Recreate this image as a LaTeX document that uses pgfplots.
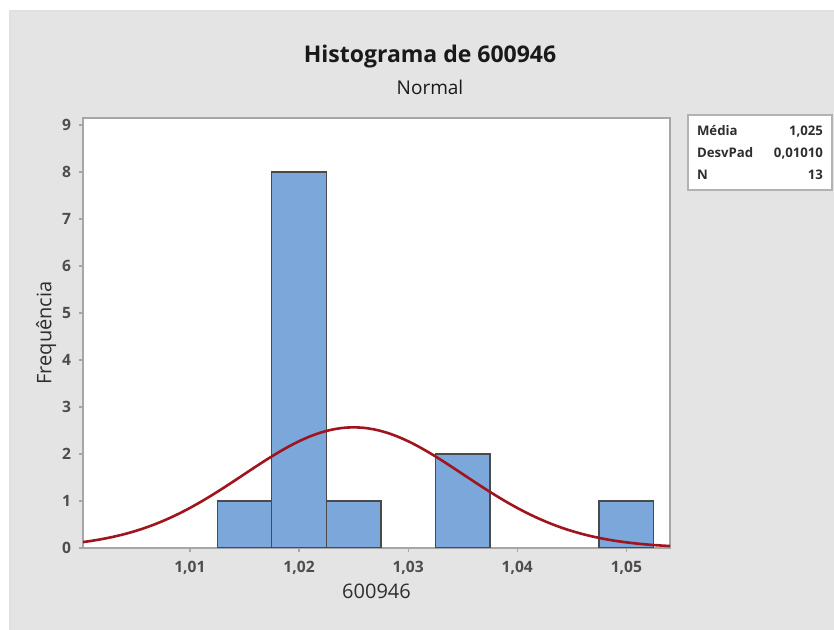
\documentclass[border=0pt]{standalone}
\usepackage{pgfplots}
\pgfplotsset{compat=1.18}
\usepackage{fontspec}
\setmainfont{Open Sans}
\definecolor{bgray}{HTML}{E4E4E4}
\definecolor{framegray}{HTML}{A6A6A6}
\definecolor{barblue}{HTML}{7BA7DA}
\definecolor{bardraw}{HTML}{4A4A4A}
\definecolor{curvered}{HTML}{A0141E}
\definecolor{txt}{HTML}{2E2E2E}
\begin{document}
\begin{tikzpicture}
\path[use as bounding box] (0,0) rectangle (417pt,315pt);
\fill[white] (0,0) rectangle (417pt,315pt);
\filldraw[fill=bgray, draw=black!12, line width=0.6pt] (5pt,-1pt) rectangle (418pt,309.5pt);
\begin{axis}[
  at={(41.5pt,41pt)}, anchor=south west,
  width=293.5pt, height=215pt, scale only axis,
  xmin=1.0002, xmax=1.0540, ymin=0, ymax=9.15,
  axis background/.style={fill=white},
  axis line style={draw=framegray, line width=0.8pt},
  xtick={1.01,1.02,1.03,1.04,1.05},
  xticklabels={{1,01},{1,02},{1,03},{1,04},{1,05}},
  ytick={0,1,...,9},
  tick align=outside, major tick length=2pt,
  tick style={draw=framegray, line width=0.6pt},
  xtick pos=bottom, ytick pos=left,
  /pgf/number format/assume math mode=true,
  tick label style={font=\fontsize{7.8}{9}\selectfont\bfseries, text=txt!85},
  xticklabel style={yshift=-1pt},
  yticklabel style={xshift=-0.5pt},
  xlabel={600946}, ylabel={Frequência},
  label style={font=\fontsize{10}{12}\selectfont, text=txt},
  xlabel style={yshift=2pt},
  ylabel style={yshift=-4pt},
  clip=true,
]
\addplot[ybar, bar width=0.005, fill=barblue, draw=bardraw, line width=0.7pt]
  coordinates {(1.015,1) (1.020,8) (1.025,1) (1.035,2) (1.050,1)};
\addplot[curvered, line width=1.3pt, smooth] coordinates {
(1.000,0.1200) (1.001,0.1525) (1.002,0.1921) (1.003,0.2395) (1.004,0.2957)
(1.005,0.3614) (1.006,0.4376) (1.007,0.5245) (1.008,0.6227) (1.009,0.7321)
(1.010,0.8523) (1.011,0.9824) (1.012,1.1215) (1.013,1.2676) (1.014,1.4188)
(1.015,1.5727) (1.016,1.7262) (1.017,1.8762) (1.018,2.0192) (1.019,2.1521)
(1.020,2.2715) (1.021,2.3739) (1.022,2.4567) (1.023,2.5177) (1.024,2.5549)
(1.025,2.5675) (1.026,2.5549) (1.027,2.5177) (1.028,2.4567) (1.029,2.3739)
(1.030,2.2715) (1.031,2.1521) (1.032,2.0192) (1.033,1.8762) (1.034,1.7262)
(1.035,1.5727) (1.036,1.4188) (1.037,1.2676) (1.038,1.1215) (1.039,0.9824)
(1.040,0.8523) (1.041,0.7321) (1.042,0.6227) (1.043,0.5245) (1.044,0.4376)
(1.045,0.3614) (1.046,0.2957) (1.047,0.2395) (1.048,0.1921) (1.049,0.1525)
(1.050,0.1200) (1.051,0.0934) (1.052,0.0720) (1.053,0.0550) (1.054,0.0416)
};
\end{axis}
\node[font=\fontsize{11.5}{14}\selectfont\bfseries, text=black!90] at (215pt,286.5pt) {Histograma de 600946};
\node[font=\fontsize{9.5}{11}\selectfont, text=black!90] at (215pt,271.5pt) {Normal};
\filldraw[fill=white, draw=black!30, line width=0.6pt] (344pt,220pt) rectangle (416pt,257.5pt);
\node[anchor=center, font=\fontsize{6.6}{11}\selectfont\bfseries, text=txt, inner sep=0pt] at (380pt,238.5pt) {%
\begin{tabular*}{63pt}{@{}l@{\extracolsep{\fill}}r@{}}
Média & 1,025\\
DesvPad & 0,01010\\
N & 13
\end{tabular*}};
\end{tikzpicture}
\end{document}
